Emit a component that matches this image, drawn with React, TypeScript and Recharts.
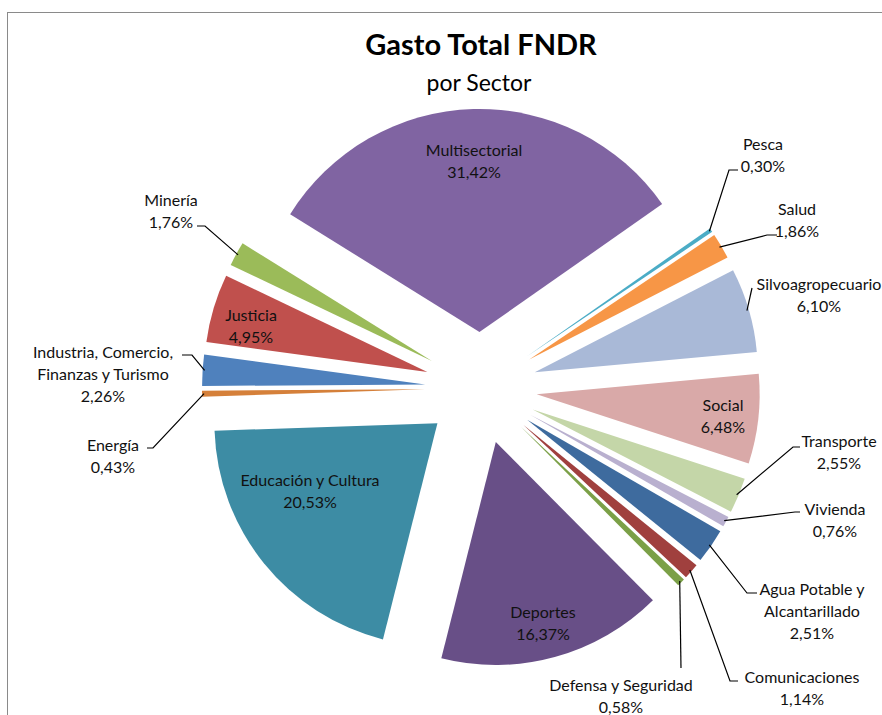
import React from "react";
import { PieChart, Pie, Cell, Sector } from "recharts";

// sectors in drawing order (clockwise, starting next to Multisectorial)
const sectors = [
  "Pesca",
  "Salud",
  "Silvoagropecuario",
  "Social",
  "Transporte",
  "Vivienda",
  "Agua Potable y\nAlcantarillado",
  "Comunicaciones",
  "Defensa y Seguridad",
  "Deportes",
  "Educación y Cultura",
  "Energía",
  "Industria, Comercio,\nFinanzas y Turismo",
  "Justicia",
  "Minería",
  "Multisectorial",
];
const shares = [0.3, 1.86, 6.1, 6.48, 2.55, 0.76, 2.51, 1.14, 0.58, 16.37, 20.53, 0.43, 2.26, 4.95, 1.76, 31.42];
const colors = [
  "#4BACC6", "#F79646", "#A9B9D7", "#D9A9A8", "#C4D6A8", "#B9B0CF", "#3E6B9E", "#A0403E",
  "#7BA047", "#684F87", "#3D8CA4", "#D5803A", "#4F81BD", "#C0504D", "#9BBB59", "#8064A2",
];

const data = sectors.map((name, i) => ({ name, value: shares[i] }));

const RADIAN = Math.PI / 180;
const EXPLODE = 56;
const FONT = "Lato, 'Open Sans', sans-serif";

// label placement: text centre + leader line points (chart px)
type LabelPos = { x: number; y: number; line?: number[][] };
const labelPos: Record<string, LabelPos> = {
  Pesca: { x: 763, y: 144, line: [[729, 170], [738, 170]] },
  Salud: { x: 797, y: 209, line: [[767, 235], [777, 235]] },
  Silvoagropecuario: { x: 819, y: 284, line: [[752, 288]] },
  Social: { x: 723, y: 405 },
  Transporte: { x: 839, y: 441, line: [[793, 447], [800, 447]] },
  Vivienda: { x: 835, y: 509, line: [[795, 512], [800, 512]] },
  "Agua Potable y\nAlcantarillado": { x: 812, y: 589, line: [[747, 593], [757, 593]] },
  Comunicaciones: { x: 802, y: 677, line: [[730, 681], [738, 681]] },
  "Defensa y Seguridad": { x: 621, y: 685, line: [[681, 668]] },
  Deportes: { x: 543, y: 612 },
  "Educación y Cultura": { x: 310, y: 480 },
  Energía: { x: 113, y: 445, line: [[153, 448], [147, 448]] },
  "Industria, Comercio,\nFinanzas y Turismo": { x: 103, y: 352, line: [[192, 355], [182, 355]] },
  Justicia: { x: 251, y: 315 },
  Minería: { x: 171, y: 200, line: [[205, 226], [197, 226]] },
  Multisectorial: { x: 474, y: 150 },
};

const ExplodedSector = (props: any) => {
  const { cx, cy, midAngle, innerRadius, outerRadius, startAngle, endAngle, fill } = props;
  const dx = EXPLODE * Math.cos(-RADIAN * midAngle);
  const dy = EXPLODE * Math.sin(-RADIAN * midAngle);
  return (
    <Sector
      cx={cx + dx}
      cy={cy + dy}
      innerRadius={innerRadius}
      outerRadius={outerRadius}
      startAngle={startAngle}
      endAngle={endAngle}
      fill={fill}
      stroke="none"
    />
  );
};

const renderLabel = (props: any) => {
  const { cx, cy, midAngle, outerRadius, name, value } = props;
  const pos = labelPos[name];
  if (!pos) return null;
  const lines = [...String(name).split("\n"), value.toFixed(2).replace(".", ",") + "%"];
  let path = null;
  if (pos.line) {
    const r = EXPLODE + outerRadius - 2;
    const sx = cx + r * Math.cos(-RADIAN * midAngle);
    const sy = cy + r * Math.sin(-RADIAN * midAngle);
    const pts = [[sx, sy], ...pos.line].map((p) => p.join(",")).join(" ");
    path = <polyline points={pts} fill="none" stroke="#000" strokeWidth={1.2} />;
  }
  return (
    <g>
      {path}
      <text textAnchor="middle" fontFamily={FONT} fontSize={16} fill="#111">
        {lines.map((t, i) => (
          <tspan key={i} x={pos.x} y={pos.y + 5.5 + i * 22}>
            {t}
          </tspan>
        ))}
      </text>
    </g>
  );
};

export default function App() {
  return (
    <div style={{ position: "absolute", left: 0, top: 0, width: 882, height: 715, overflow: "hidden", background: "#fff" }}>
      <div
        style={{
          position: "absolute",
          left: 7,
          top: 12,
          width: 900,
          height: 720,
          borderLeft: "1px solid #8a8a8a",
          borderTop: "1px solid #8a8a8a",
        }}
      />
      <div
        style={{
          position: "absolute",
          left: 0,
          width: 962,
          top: 26,
          textAlign: "center",
          fontFamily: FONT,
          fontWeight: 700,
          fontSize: 29,
          color: "#000",
          lineHeight: "36px",
        }}
      >
        Gasto Total FNDR
      </div>
      <div
        style={{
          position: "absolute",
          left: 0,
          width: 958,
          top: 67,
          textAlign: "center",
          fontFamily: FONT,
          fontSize: 23,
          color: "#000",
          lineHeight: "30px",
        }}
      >
        por Sector
      </div>
      <div style={{ position: "absolute", left: 0, top: 0 }}>
        <PieChart width={882} height={715} margin={{ top: 0, right: 0, bottom: 0, left: 0 }}>
          <Pie
            data={data}
            dataKey="value"
            nameKey="name"
            cx={481}
            cy={388}
            outerRadius={223}
            startAngle={35}
            endAngle={-325}
            shape={ExplodedSector}
            label={renderLabel}
            labelLine={false}
            stroke="none"
            isAnimationActive={false}
          >
            {data.map((d, i) => (
              <Cell key={d.name} fill={colors[i]} />
            ))}
          </Pie>
        </PieChart>
      </div>
    </div>
  );
}
